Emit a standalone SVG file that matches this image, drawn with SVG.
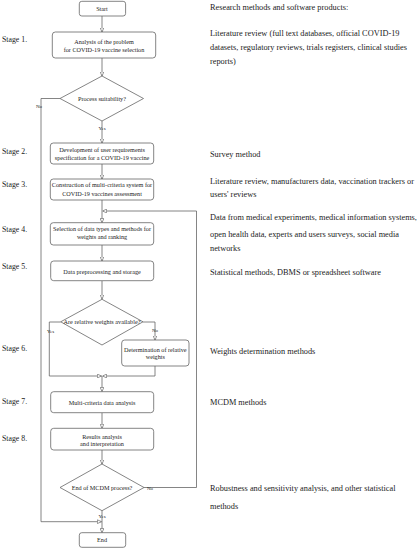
<svg xmlns="http://www.w3.org/2000/svg" width="419" height="550" viewBox="0 0 419 550">
<style>
.bx{fill:#fff;stroke:#666;stroke-width:0.8}
.ln{fill:none;stroke:#666;stroke-width:0.8}
.nt{font-family:"Liberation Serif","DejaVu Serif",serif;font-size:6.2px;fill:#222;text-anchor:middle}
.st{font-family:"Liberation Serif","DejaVu Serif",serif;font-size:7.8px;fill:#222}
.rt{font-family:"Liberation Serif","DejaVu Serif",serif;font-size:8.3px;fill:#222}
.lb{font-family:"Liberation Serif","DejaVu Serif",serif;font-size:5px;fill:#222}
</style>
<defs>
<marker id="arr" viewBox="0 0 6 6" refX="6" refY="3" markerWidth="4.5" markerHeight="4.5" markerUnits="userSpaceOnUse" orient="auto">
<path d="M0.5,0.5 L6,3 L0.5,5.5 z" fill="#fff" stroke="#666" stroke-width="0.9"/>
</marker>
</defs>
<rect width="419" height="550" fill="#fff"/>

<g id="connectors">
<path class="ln" d="M102,16 V32" marker-end="url(#arr)"/>
<path class="ln" d="M102,58 V76" marker-end="url(#arr)"/>
<path class="ln" d="M102,121 V143" marker-end="url(#arr)"/>
<path class="ln" d="M60,98.5 H41 V521.7 H101.5" marker-end="url(#arr)"/>
<path class="ln" d="M102,164 V179" marker-end="url(#arr)"/>
<path class="ln" d="M102,200 V222.7" marker-end="url(#arr)"/>
<path class="ln" d="M144,487.5 H196.5 V211 H102.5" marker-end="url(#arr)"/>
<path class="ln" d="M102,245 V261" marker-end="url(#arr)"/>
<path class="ln" d="M102,281 V299" marker-end="url(#arr)"/>
<path class="ln" d="M60.7,322 H49.3 V376 H101.5" marker-end="url(#arr)"/>
<path class="ln" d="M143,322 H155 V340" marker-end="url(#arr)"/>
<path class="ln" d="M155,366 V376 H102.5" marker-end="url(#arr)"/>
<path class="ln" d="M102,376 V391.5" marker-end="url(#arr)"/>
<path class="ln" d="M102,412.7 V428.3" marker-end="url(#arr)"/>
<path class="ln" d="M102,450 V464" marker-end="url(#arr)"/>
<path class="ln" d="M102,510.7 V532.7" marker-end="url(#arr)"/>
<text class="lb" x="36" y="108">No</text>
<text class="lb" x="98.5" y="130">Yes</text>
<text class="lb" x="47" y="333">Yes</text>
<text class="lb" x="152" y="332">No</text>
<text class="lb" x="147" y="489.5">No</text>
<text class="lb" x="98.5" y="517.5">Yes</text>
</g>

<g id="start">
<rect class="bx" x="79.3" y="1.3" width="46.3" height="14.7" rx="2.5"/>
<text class="nt" x="102" y="11">Start</text>
</g>
<g id="analysis">
<rect class="bx" x="52.3" y="32" width="103.4" height="26" rx="3"/>
<text class="nt" x="104" y="43.8">Analysis of the problem</text>
<text class="nt" x="104" y="51.5">for COVID-19 vaccine selection</text>
</g>
<g id="suitability">
<polygon class="bx" points="102,76 143.5,98.5 102,121 60,98.5"/>
<text class="nt" x="102" y="100.5">Process suitability?</text>
</g>
<g id="stage2">
<rect class="bx" x="50.3" y="143" width="103.4" height="21" rx="3"/>
<text class="nt" x="102" y="151.9">Development of user requirements</text>
<text class="nt" x="102" y="159.9">specification for a COVID-19 vaccine</text>
</g>
<g id="stage3">
<rect class="bx" x="50.3" y="179" width="103.4" height="21" rx="3"/>
<text class="nt" x="102" y="187.2">Construction of multi-criteria system for</text>
<text class="nt" x="102" y="195.9">COVID-19 vaccines assessment</text>
</g>
<g id="stage4">
<rect class="bx" x="50.3" y="222.7" width="103.4" height="22.3" rx="3"/>
<text class="nt" x="102" y="231.2">Selection of data types and methods for</text>
<text class="nt" x="102" y="238.9">weights and ranking</text>
</g>
<g id="stage5">
<rect class="bx" x="50.7" y="261" width="103" height="19.7" rx="3"/>
<text class="nt" x="102" y="273.5">Data preprocessing and storage</text>
</g>
<g id="weights">
<polygon class="bx" points="102,299.3 143,321.8 102,345 60.7,321.8"/>
<text class="nt" x="102" y="324">Are relative weights available?</text>
</g>
<g id="determination">
<rect class="bx" x="121.7" y="340" width="67.3" height="26" rx="3"/>
<text class="nt" x="155.3" y="351.5">Determination of relative</text>
<text class="nt" x="155.3" y="359.2">weights</text>
</g>
<g id="stage7">
<rect class="bx" x="50.7" y="391.7" width="103" height="21" rx="3"/>
<text class="nt" x="102" y="404.9">Multi-criteria data analysis</text>
</g>
<g id="stage8">
<rect class="bx" x="50.7" y="428.3" width="103" height="21.7" rx="3"/>
<text class="nt" x="102" y="438.9">Results analysis</text>
<text class="nt" x="102" y="445.5">and interpretation</text>
</g>
<g id="endmcdm">
<polygon class="bx" points="102,464 144,487.5 102,510.7 60,487.5"/>
<text class="nt" x="102" y="489.7">End of MCDM process?</text>
</g>
<g id="end">
<rect class="bx" x="79.3" y="532.7" width="46.4" height="14.6" rx="2.5"/>
<text class="nt" x="102" y="542.2">End</text>
</g>

<g id="stages">
<text class="st" x="2" y="41.7">Stage 1.</text>
<text class="st" x="2" y="153.7">Stage 2.</text>
<text class="st" x="2" y="187.4">Stage 3.</text>
<text class="st" x="2" y="231.7">Stage 4.</text>
<text class="st" x="2" y="269">Stage 5.</text>
<text class="st" x="2" y="350.7">Stage 6.</text>
<text class="st" x="2" y="403.7">Stage 7.</text>
<text class="st" x="2" y="441">Stage 8.</text>
</g>

<g id="methods">
<text class="rt" x="210" y="10.2">Research methods and software products:</text>
<text class="rt" x="210" y="36.2">Literature review (full text databases, official COVID-19</text>
<text class="rt" x="210" y="49.6">datasets, regulatory reviews, trials registers, clinical studies</text>
<text class="rt" x="210" y="63.9">reports)</text>
<text class="rt" x="210" y="157.2">Survey method</text>
<text class="rt" x="210" y="183.9">Literature review, manufacturers data, vaccination trackers or</text>
<text class="rt" x="210" y="197.2">users' reviews</text>
<text class="rt" x="210" y="220.2">Data from medical experiments, medical information systems,</text>
<text class="rt" x="210" y="237.2">open health data, experts and users surveys, social media</text>
<text class="rt" x="210" y="250.9">networks</text>
<text class="rt" x="210" y="274.6">Statistical methods, DBMS or spreadsheet software</text>
<text class="rt" x="210" y="353.9">Weights determination methods</text>
<text class="rt" x="210" y="405.2">MCDM methods</text>
<text class="rt" x="210" y="491.2">Robustness and sensitivity analysis, and other statistical</text>
<text class="rt" x="210" y="508.9">methods</text>
</g>
</svg>
